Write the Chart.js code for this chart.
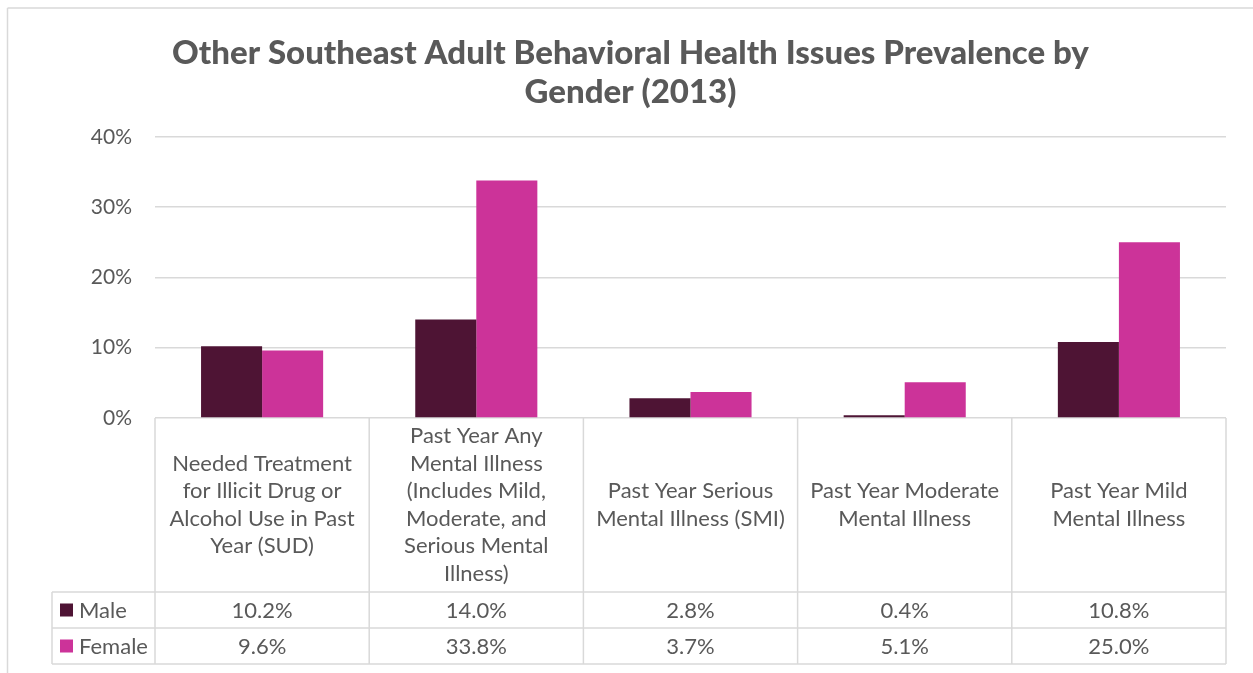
<!DOCTYPE html>
<html><head><meta charset="utf-8">
<script src="https://cdn.jsdelivr.net/npm/chart.js@4.4.0/dist/chart.umd.min.js"></script>
<style>html,body{margin:0;padding:0;background:#fff;overflow:hidden}canvas{display:block}</style>
</head><body>
<canvas id="c" width="1253" height="673"></canvas>
<script>
const categories = [
  ["Needed Treatment", "for Illicit Drug or", "Alcohol Use in Past", "Year (SUD)"],
  ["Past Year Any", "Mental Illness", "(Includes Mild,", "Moderate, and", "Serious Mental", "Illness)"],
  ["Past Year Serious", "Mental Illness (SMI)"],
  ["Past Year Moderate", "Mental Illness"],
  ["Past Year Mild", "Mental Illness"]
];
const seriesNames = ["Male", "Female"];
const maleValues = [10.2, 14.0, 2.8, 0.4, 10.8];
const femaleValues = [9.6, 33.8, 3.7, 5.1, 25.0];
const yTickValues = [0, 10, 20, 30, 40];
const titleLines = ["Other Southeast Adult Behavioral Health Issues Prevalence by", "Gender (2013)"];

const TEXT = '#595959', GRID = '#D9D9D9';
const FONT = 'Lato, "Open Sans", sans-serif';
const HEADER_H = 174, ROW_H = 36, LINE_H = 27.5, LEG_LEFT = 52;

function line(ctx, x1, y1, x2, y2) { ctx.beginPath(); ctx.moveTo(x1, y1); ctx.lineTo(x2, y2); ctx.stroke(); }

const tablePlugin = {
  id: 'dataTable',
  beforeDraw(chart) {
    const ctx = chart.ctx;
    ctx.save();
    ctx.strokeStyle = GRID; ctx.lineWidth = 1.5;
    line(ctx, 7.5, 8, 7.5, chart.height);
    line(ctx, 7.5, 8, chart.width, 8);
    ctx.restore();
  },
  afterDraw(chart) {
    const { ctx, chartArea: a, scales: { x } } = chart;
    const n = categories.length;
    const w = (a.right - a.left) / n;
    const top = a.bottom, hdrB = top + HEADER_H, r1 = hdrB + ROW_H, r2 = r1 + ROW_H;
    ctx.save();
    ctx.strokeStyle = GRID; ctx.lineWidth = 1.5;
    for (let i = 0; i <= n; i++) { const xx = a.left + i * w; line(ctx, xx, top, xx, r2); }
    line(ctx, LEG_LEFT, hdrB, LEG_LEFT, r2);
    [hdrB, r1, r2].forEach(y => line(ctx, LEG_LEFT, y, a.right, y));
    ctx.fillStyle = TEXT; ctx.font = '22px ' + FONT;
    ctx.textAlign = 'center'; ctx.textBaseline = 'middle';
    const cyH = (top + hdrB) / 2;
    categories.forEach((lines, i) => {
      const cx = x.getPixelForValue(i);
      lines.forEach((t, j) => ctx.fillText(t, cx, cyH + (j - (lines.length - 1) / 2) * LINE_H));
    });
    chart.data.datasets.forEach((ds, k) => {
      const cy = hdrB + ROW_H * (k + 0.5);
      ctx.fillStyle = ds.backgroundColor;
      ctx.fillRect(60, cy - 6.5, 13, 13);
      ctx.fillStyle = TEXT; ctx.textAlign = 'left';
      ctx.fillText(ds.label, 79, cy + 1);
      ctx.textAlign = 'center';
      ds.data.forEach((v, i) => ctx.fillText(v.toFixed(1) + '%', x.getPixelForValue(i), cy + 1));
    });
    ctx.restore();
  }
};

new Chart(document.getElementById('c'), {
  type: 'bar',
  data: {
    labels: categories,
    datasets: [
      { label: seriesNames[0], data: maleValues, backgroundColor: '#4E1434' },
      { label: seriesNames[1], data: femaleValues, backgroundColor: '#CC3399' }
    ]
  },
  options: {
    responsive: false,
    animation: false,
    layout: { padding: { left: 35, right: 27, top: 0, bottom: 255 } },
    categoryPercentage: 0.57,
    barPercentage: 1.0,
    plugins: {
      legend: { display: false },
      tooltip: { enabled: false },
      title: {
        display: true, text: titleLines, color: TEXT,
        font: { family: FONT, size: 33, weight: '900', lineHeight: 1.18 },
        padding: { top: 34, bottom: 25 }
      }
    },
    scales: {
      x: { display: false },
      y: {
        min: 0, max: 40,
        afterFit: s => { s.width = 120; },
        afterBuildTicks: s => { s.ticks = yTickValues.map(v => ({ value: v })); },
        ticks: { color: TEXT, font: { family: FONT, size: 21 }, padding: 23, callback: v => v + '%' },
        grid: { color: GRID, lineWidth: 1.5, drawTicks: false },
        border: { display: false }
      }
    }
  },
  plugins: [tablePlugin]
});
</script>
</body></html>
